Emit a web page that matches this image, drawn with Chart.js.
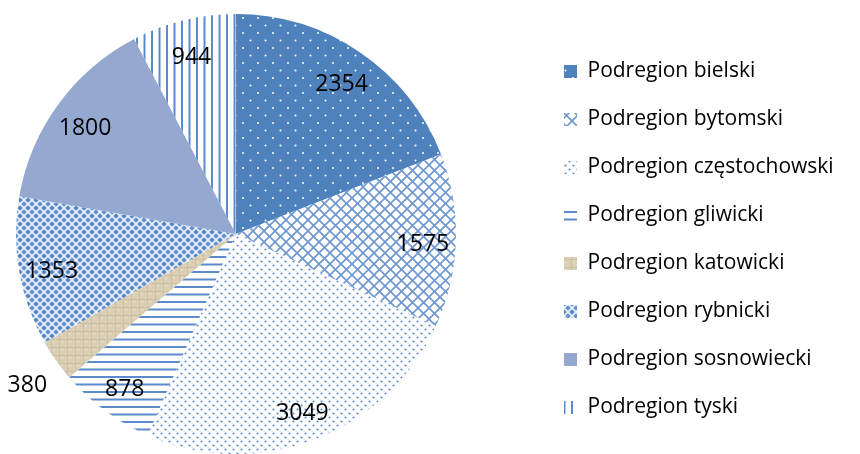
<!DOCTYPE html>
<html>
<head>
<meta charset="utf-8">
<script src="https://cdn.jsdelivr.net/npm/chart.js@4"></script>
<style>
  html, body { margin: 0; padding: 0; background: #fff; }
  #wrap { width: 860px; height: 454px; position: relative; }
</style>
</head>
<body>
<div id="wrap"><canvas id="pie"></canvas></div>
<script>
const categories = [
  "Podregion bielski", "Podregion bytomski", "Podregion częstochowski", "Podregion gliwicki",
  "Podregion katowicki", "Podregion rybnicki", "Podregion sosnowiecki", "Podregion tyski"
];
const values = [2354, 1575, 3049, 878, 380, 1353, 1800, 944];

const BLUE = "#4F81BD";
const LINE_BLUE = "#5B8BCC";
const LEGEND_FONT = '21px "Open Sans"';

// small tiles used as fill patterns, like the Excel pattern fills
function tile(w, h, draw) {
  const c = document.createElement("canvas");
  c.width = w; c.height = h;
  const g = c.getContext("2d");
  draw(g, w, h);
  return g.createPattern(c, "repeat");
}

function dot(g, x, y, r) {
  g.beginPath(); g.arc(x, y, r, 0, Math.PI * 2); g.fill();
}

function lattice(g, w, h) {
  for (const o of [-w, 0, w]) {
    g.beginPath(); g.moveTo(o, 0); g.lineTo(o + w, h); g.stroke();
    g.beginPath(); g.moveTo(o + w, 0); g.lineTo(o, h); g.stroke();
  }
}

const fills = [
  // bielski: blue with white dots
  tile(15, 15, (g, w, h) => {
    g.fillStyle = BLUE; g.fillRect(0, 0, w, h);
    g.fillStyle = "#fff"; dot(g, 3, 3, 1); dot(g, 10.5, 10.5, 1);
  }),
  // bytomski: diagonal lattice
  tile(11, 11, (g, w, h) => {
    g.fillStyle = "#fff"; g.fillRect(0, 0, w, h);
    g.strokeStyle = "#6F98D0"; g.lineWidth = 1.7;
    lattice(g, w, h);
  }),
  // częstochowski: blue dots on white
  tile(8, 8, (g, w, h) => {
    g.fillStyle = "#fff"; g.fillRect(0, 0, w, h);
    g.fillStyle = "#5E8DD0"; dot(g, 1.5, 1.5, 1.1); dot(g, 5.5, 5.5, 1.1);
  }),
  // gliwicki: horizontal lines
  tile(8, 15, (g, w, h) => {
    g.fillStyle = "#fff"; g.fillRect(0, 0, w, h);
    g.fillStyle = LINE_BLUE; g.fillRect(0, 1, w, 2); g.fillRect(0, 8.5, w, 2);
  }),
  // katowicki: beige texture
  tile(8, 8, (g, w, h) => {
    g.fillStyle = "#DACEB5"; g.fillRect(0, 0, w, h);
    g.fillStyle = "#CDC0A3";
    g.fillRect(0, 3, w, 1); g.fillRect(3, 0, 1, h);
    g.fillStyle = "#E4DAC6"; g.fillRect(5, 5, 2, 2); g.fillRect(1, 1, 1, 1);
  }),
  // rybnicki: blue with fine white lattice
  tile(8, 8, (g, w, h) => {
    g.fillStyle = "#6491CE"; g.fillRect(0, 0, w, h);
    g.strokeStyle = "rgba(255,255,255,0.85)"; g.lineWidth = 1.6;
    lattice(g, w, h);
    g.fillStyle = "#4F81BD"; g.fillRect(3, 0, 2, 1); g.fillRect(3, 7, 2, 1);
  }),
  // sosnowiecki: plain light blue
  "#94A8D0",
  // tyski: vertical lines
  tile(15, 8, (g, w, h) => {
    g.fillStyle = "#fff"; g.fillRect(0, 0, w, h);
    g.fillStyle = LINE_BLUE; g.fillRect(1, 0, 2, h); g.fillRect(8.5, 0, 2, h);
  }),
];

// value labels inside the slices, small slices get theirs outside
const sliceLabels = {
  id: "sliceLabels",
  afterDatasetsDraw(chart) {
    const { ctx } = chart;
    const meta = chart.getDatasetMeta(0);
    ctx.save();
    ctx.font = '23px "Open Sans"';
    ctx.fillStyle = "#000";
    ctx.textAlign = "center";
    ctx.textBaseline = "middle";
    meta.data.forEach((arc, i) => {
      const { x, y, startAngle, endAngle, outerRadius } = arc.getProps(["x", "y", "startAngle", "endAngle", "outerRadius"], true);
      const mid = (startAngle + endAngle) / 2;
      const k = endAngle - startAngle < 0.25 ? 1.16 : 0.85;
      ctx.fillText(String(values[i]), x + Math.cos(mid) * outerRadius * k, y + Math.sin(mid) * outerRadius * k + 5);
    });
    ctx.restore();
  },
};

// pie area: x 16..456, y 14..454; legend boxes start at x=564
const m = document.createElement("canvas").getContext("2d");
m.font = LEGEND_FONT;
const maxText = Math.max(...categories.map((c) => m.measureText(c).width));
const legendPad = 27, boxW = 13, legendLeft = 564 - legendPad;
const legendWidth = legendPad + boxW + 10.5 + maxText + 10;
const padRight = Math.max(0, 860 - legendLeft - legendWidth);
const gapWidth = legendLeft - 456;

// empty layout box between the pie and the legend
// (display:false keeps it out of the box count, so the legend keeps its full width)
const gap = {
  id: "gap",
  beforeInit(chart) {
    Chart.layouts.addBox(chart, {
      position: "right",
      weight: 0,
      fullSize: false,
      options: { display: false },
      left: 0, top: 0, right: 0, bottom: 0, width: 0, height: 0,
      isHorizontal() { return false; },
      getPadding() { return { left: 0, top: 0, right: 0, bottom: 0 }; },
      update(maxWidth, maxHeight) { this.width = gapWidth; this.height = maxHeight; },
      draw() {},
    });
  },
};

new Chart(document.getElementById("pie"), {
  type: "pie",
  data: {
    labels: categories,
    datasets: [{
      data: values,
      backgroundColor: fills,
      borderWidth: 0,
      hoverOffset: 0,
      offset: 0,
    }],
  },
  options: {
    responsive: true,
    maintainAspectRatio: false,
    animation: false,
    events: [],
    layout: { padding: { top: 14, bottom: 0, left: 16, right: padRight } },
    plugins: {
      tooltip: { enabled: false },
      legend: {
        position: "right",
        align: "center",
        title: { display: true, text: "", padding: { top: 10, bottom: 0 }, font: { size: 1, lineHeight: 1 } },
        labels: {
          boxWidth: boxW,
          boxHeight: 13,
          padding: legendPad,
          color: "#000",
          font: { family: "Open Sans", size: 21 },
        },
      },
    },
  },
  plugins: [gap, sliceLabels],
});
</script>
</body>
</html>
